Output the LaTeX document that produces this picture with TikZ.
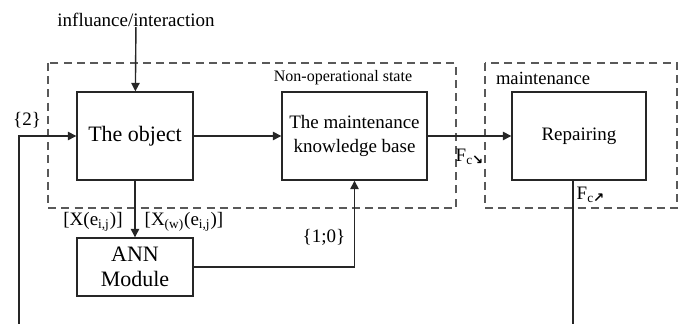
\documentclass[tikz,border=0pt]{standalone}
\usepackage{fontspec}
\setmainfont{Liberation Serif}
\newfontfamily\arrowfont{DejaVu Sans}
\usetikzlibrary{arrows.meta}
\tikzstyle{block}=[draw=black!85,line width=0.7pt,minimum height=44pt,inner sep=2pt,align=center,font=\fontsize{9.5}{12}\selectfont]
\tikzstyle{group}=[draw=black!65,line width=0.7pt,dash pattern=on 4pt off 2.6pt]
\tikzstyle{lbl}=[inner sep=0pt,font=\fontsize{9.5}{11}\selectfont]
\tikzstyle{wire}=[draw=black!85,line width=0.7pt]

\begin{document}
\begin{tikzpicture}[x=0.5pt,y=-0.5pt,>={Triangle[length=4.2pt,width=4.2pt]}]
  \useasboundingbox (0,0) rectangle (683,324);
  % the two states
  \draw[group] (48,63) rectangle (456,208);
  \draw[group] (485,63) rectangle (677,208);
  \node[lbl,font=\fontsize{8}{9}\selectfont] (nonop) at (343,78) {Non-operational state};
  \node[lbl,font=\fontsize{9.3}{11}\selectfont] (maint) at (543,78) {maintenance};
  % blocks
  \node[lbl] (infl) at (136,20) {influance/interaction};
  \node[block,minimum width=58pt,font=\fontsize{11}{13}\selectfont] (obj) at (135,136) {The object}
    edge [wire,<-] (infl);
  \node[block,minimum width=72.5pt] (kb) at (354.5,136) {The maintenance\\knowledge base}
    edge [wire,<-] (obj);
  \node[block,minimum width=67pt] (rep) at (579,136) {Repairing}
    edge [wire,<-] (kb);
  \node[block,minimum width=58pt,minimum height=29pt,font=\fontsize{11}{12.5}\selectfont] (ann) at (135,267) {ANN\\Module}
    edge [wire,<-] (obj);
  % loops
  \coordinate (fbl) at (19,324);
  \coordinate (fbr) at (573,324);
  \draw[wire,->] (fbl) |- (obj.west);
  \draw[wire] (rep.south -| fbr) -- (fbr);
  \draw[wire,->] (ann.east) -| (kb.south);
  % labels
  \node[lbl] (two) at (27,120) {\{2\}};
  \node[lbl] (xe) at (93,222) {[X(e\textsubscript{i,j})]};
  \node[lbl] (xw) at (184,222) {[X\textsubscript{(w)}(e\textsubscript{i,j})]};
  \node[lbl] (onezero) at (324,237) {\{1;0\}};
  \node[lbl] (fdown) at (470,157) {F\textsubscript{c{\arrowfont\bfseries ↘}}};
  \node[lbl] (fup) at (591,195) {F\textsubscript{c{\arrowfont\bfseries ↗}}};
\end{tikzpicture}
\end{document}
